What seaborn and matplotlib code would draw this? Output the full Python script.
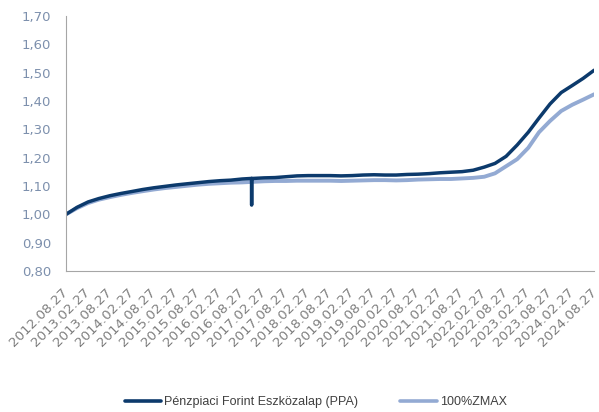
import pandas as pd
import numpy as np
import matplotlib
matplotlib.use("Agg")
import matplotlib.pyplot as plt
import matplotlib.transforms as mtransforms
from matplotlib.ticker import FuncFormatter, MultipleLocator
import seaborn as sns

# Quarterly observation dates (months after 2012.08.27)
months = list(range(0, 145, 3))
ppa = [1.000, 1.025, 1.044, 1.056, 1.066, 1.074, 1.081, 1.088, 1.094, 1.099,
       1.104, 1.108, 1.112, 1.116, 1.119, 1.121, 1.125, 1.127, 1.129, 1.130,
       1.133, 1.136, 1.137, 1.137, 1.137, 1.136, 1.137, 1.139, 1.140, 1.139,
       1.139, 1.141, 1.142, 1.144, 1.147, 1.149, 1.151, 1.156, 1.167, 1.180,
       1.205, 1.245, 1.290, 1.340, 1.390, 1.430, 1.455, 1.480, 1.509]
zmax = [1.000, 1.022, 1.040, 1.052, 1.061, 1.069, 1.076, 1.082, 1.088, 1.093,
        1.097, 1.101, 1.105, 1.108, 1.110, 1.112, 1.113, 1.115, 1.117, 1.118,
        1.118, 1.119, 1.119, 1.119, 1.119, 1.118, 1.119, 1.120, 1.121, 1.121,
        1.120, 1.121, 1.123, 1.124, 1.125, 1.125, 1.127, 1.129, 1.133, 1.145,
        1.170, 1.195, 1.235, 1.290, 1.330, 1.365, 1.387, 1.405, 1.424]
# one-day drop in the PPA series
dip_dates = ["2016-11-14", "2016-11-15", "2016-11-16"]
dip_values = [1.127, 1.033, 1.127]

tick_labels = ["2012.08.27", "2013.02.27", "2013.08.27", "2014.02.27", "2014.08.27",
               "2015.02.27", "2015.08.27", "2016.02.27", "2016.08.27", "2017.02.27",
               "2017.08.27", "2018.02.27", "2018.08.27", "2019.02.27", "2019.08.27",
               "2020.02.27", "2020.08.27", "2021.02.27", "2021.08.27", "2022.02.27",
               "2022.08.27", "2023.02.27", "2023.08.27", "2024.02.27", "2024.08.27"]

name_ppa = "Pénzpiaci Forint Eszközalap (PPA)"
name_zmax = "100%ZMAX"

start = pd.Timestamp("2012-08-27")
dates = [start + pd.DateOffset(months=m) for m in months]

df_ppa = pd.DataFrame({"date": dates + list(pd.to_datetime(dip_dates)),
                       "value": ppa + dip_values}).sort_values("date")
df_z = pd.DataFrame({"date": dates, "value": zmax})

sns.set_style("white")
plt.rcParams["font.family"] = ["DejaVu Sans"]

fig = plt.figure(figsize=(5.99, 4.12), dpi=100)
ax = fig.add_axes([0.110, 0.342, 0.882, 0.619])

col_ppa = "#0c3a6c"
col_z = "#93aad3"
sns.lineplot(data=df_z, x="date", y="value", color=col_z,
             linewidth=2.8, ax=ax, label=name_zmax, estimator=None)
sns.lineplot(data=df_ppa, x="date", y="value", color=col_ppa,
             linewidth=2.5, ax=ax, label=name_ppa, estimator=None)

tick_dates = [pd.Timestamp(t.replace(".", "-")) for t in tick_labels]
ax.set_xlim(tick_dates[0], tick_dates[-1])
ax.set_xticks(tick_dates)
ax.set_xticklabels(tick_labels, rotation=45, ha="right", va="center",
                   rotation_mode="anchor", fontsize=9.6, color="#7f7f7f")
shift = mtransforms.ScaledTranslation(-3 / 100, 0, fig.dpi_scale_trans)
for lab in ax.get_xticklabels():
    lab.set_transform(lab.get_transform() + shift)

ax.set_ylim(0.80, 1.70)
ax.yaxis.set_major_locator(MultipleLocator(0.10))
ax.yaxis.set_major_formatter(FuncFormatter(lambda v, p: f"{v:.2f}".replace(".", ",")))
for lab in ax.get_yticklabels():
    lab.set_fontsize(9.5)
    lab.set_color("#7d90ad")

ax.set_xlabel("")
ax.set_ylabel("")
for s in ["top", "right"]:
    ax.spines[s].set_visible(False)
for s in ["left", "bottom"]:
    ax.spines[s].set_color("#a6a6a6")
    ax.spines[s].set_linewidth(0.8)
ax.tick_params(axis="y", which="major", direction="out", length=5.5,
               width=0.8, color="#a6a6a6", pad=5)
ax.tick_params(axis="x", which="major", direction="out", length=3,
               width=0.8, color="#a6a6a6", pad=11)

handles, labels = ax.get_legend_handles_labels()
order = [labels.index(name_ppa), labels.index(name_zmax)]
ax.get_legend().remove()
leg = fig.legend([handles[i] for i in order], [labels[i] for i in order],
                 loc="center", bbox_to_anchor=(0.527, 0.024), ncol=2, frameon=False,
                 handlelength=2.95, handletextpad=0.2, columnspacing=3.4,
                 prop={"family": "Liberation Sans", "size": 9})
for t in leg.get_texts():
    t.set_color("#404040")
for h in leg.legend_handles:
    h.set_linewidth(2.6)

fig.savefig("out.png", dpi=100)
